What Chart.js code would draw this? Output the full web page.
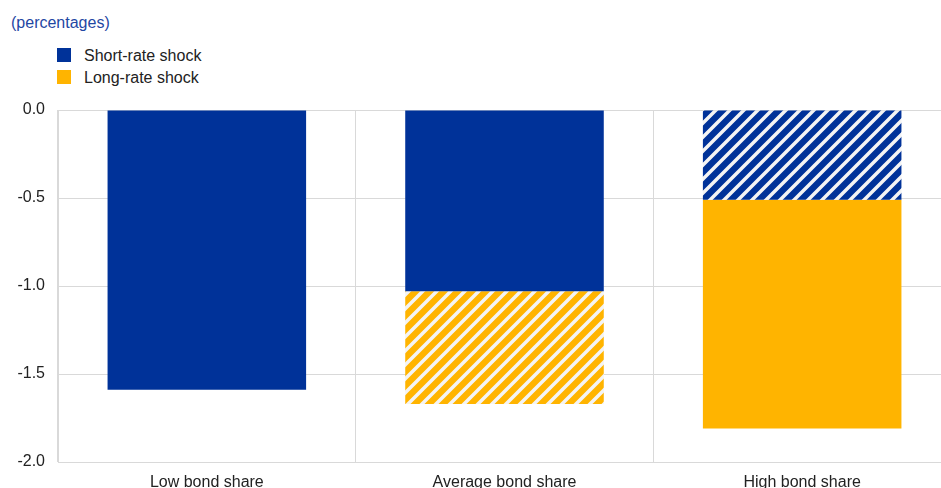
<!DOCTYPE html>
<html>
<head>
<meta charset="utf-8">
<script src="https://cdn.jsdelivr.net/npm/chart.js@4"></script>
<style>
  body { margin: 0; background: #fff; font-family: "Liberation Sans", Arial, sans-serif; }
  #wrap { position: relative; width: 941px; height: 488px; overflow: hidden; }
  #unit { position: absolute; left: 11px; top: 14px; font-size: 16px; color: #1f47a3; line-height: 18px; }
  .leg { position: absolute; left: 57px; font-size: 16px; color: #222; line-height: 14px; }
  .leg span { display: inline-block; width: 14px; height: 14px; vertical-align: top; margin-right: 13px; }
  .leg b { font-weight: normal; position: relative; top: 1px; }
  canvas { position: absolute; left: 0; top: 0; }
</style>
</head>
<body>
<div id="wrap">
  <div id="unit">(percentages)</div>
  <div class="leg" style="top:48px"><span style="background:#003299"></span><b>Short-rate shock</b></div>
  <div class="leg" style="top:70px"><span style="background:#ffb400"></span><b>Long-rate shock</b></div>
  <canvas id="chart" width="951" height="488"></canvas>
</div>
<script>
const categories = ['Low bond share', 'Average bond share', 'High bond share'];
const shortRate = [-1.59, -1.03, -0.51];
const longRate = [0, -0.64, -1.30];
// which bars are drawn hatched
const shortHatched = [false, false, true];
const longHatched = [false, true, false];
const yTicks = [0, -0.5, -1.0, -1.5, -2.0];

const BLUE = '#003299';
const YELLOW = '#ffb400';

function makeHatch(color) {
  const size = 14;
  const c = document.createElement('canvas');
  c.width = size;
  c.height = size;
  const g = c.getContext('2d');
  g.fillStyle = color;
  g.fillRect(0, 0, size, size);
  g.strokeStyle = '#f4f4f4';
  g.lineWidth = 3.5;
  g.beginPath();
  g.moveTo(-1, size + 1); g.lineTo(size + 1, -1);
  g.moveTo(-size / 2, size / 2); g.lineTo(size / 2, -size / 2);
  g.moveTo(size / 2, size * 1.5); g.lineTo(size * 1.5, size / 2);
  g.stroke();
  return g.createPattern(c, 'repeat');
}

const blueHatch = makeHatch(BLUE);
const yellowHatch = makeHatch(YELLOW);

const ctx = document.getElementById('chart').getContext('2d');
new Chart(ctx, {
  type: 'bar',
  data: {
    labels: categories,
    datasets: [{
      label: 'Short-rate shock',
      data: shortRate,
      backgroundColor: shortHatched.map(h => h ? blueHatch : BLUE),
      borderWidth: 0,
      categoryPercentage: 0.667,
      barPercentage: 1.0
    }, {
      label: 'Long-rate shock',
      data: longRate,
      backgroundColor: longHatched.map(h => h ? yellowHatch : YELLOW),
      borderWidth: 0,
      categoryPercentage: 0.667,
      barPercentage: 1.0
    }]
  },
  options: {
    responsive: false,
    animation: false,
    layout: { padding: { top: 110, right: 0, left: 0, bottom: 0 } },
    plugins: {
      legend: { display: false },
      tooltip: { enabled: false }
    },
    scales: {
      x: {
        stacked: true,
        grid: { color: '#d9d9d9', drawTicks: false, offset: true },
        border: { color: '#d9d9d9' },
        ticks: {
          color: '#222',
          padding: 11,
          font: { family: '"Liberation Sans", Arial, sans-serif', size: 16 },
          maxRotation: 0
        },
        afterFit(scale) { scale.height = 26; }
      },
      y: {
        stacked: true,
        min: -2,
        max: 0,
        afterBuildTicks(scale) { scale.ticks = yTicks.map(v => ({ value: v })); },
        grid: { color: '#d9d9d9', drawTicks: false },
        border: { color: '#d9d9d9' },
        ticks: {
          color: '#222',
          padding: 13,
          font: { family: '"Liberation Sans", Arial, sans-serif', size: 16 },
          callback: v => Number(v).toFixed(1)
        },
        afterFit(scale) { scale.width = 58; }
      }
    }
  }
});
</script>
</body>
</html>
